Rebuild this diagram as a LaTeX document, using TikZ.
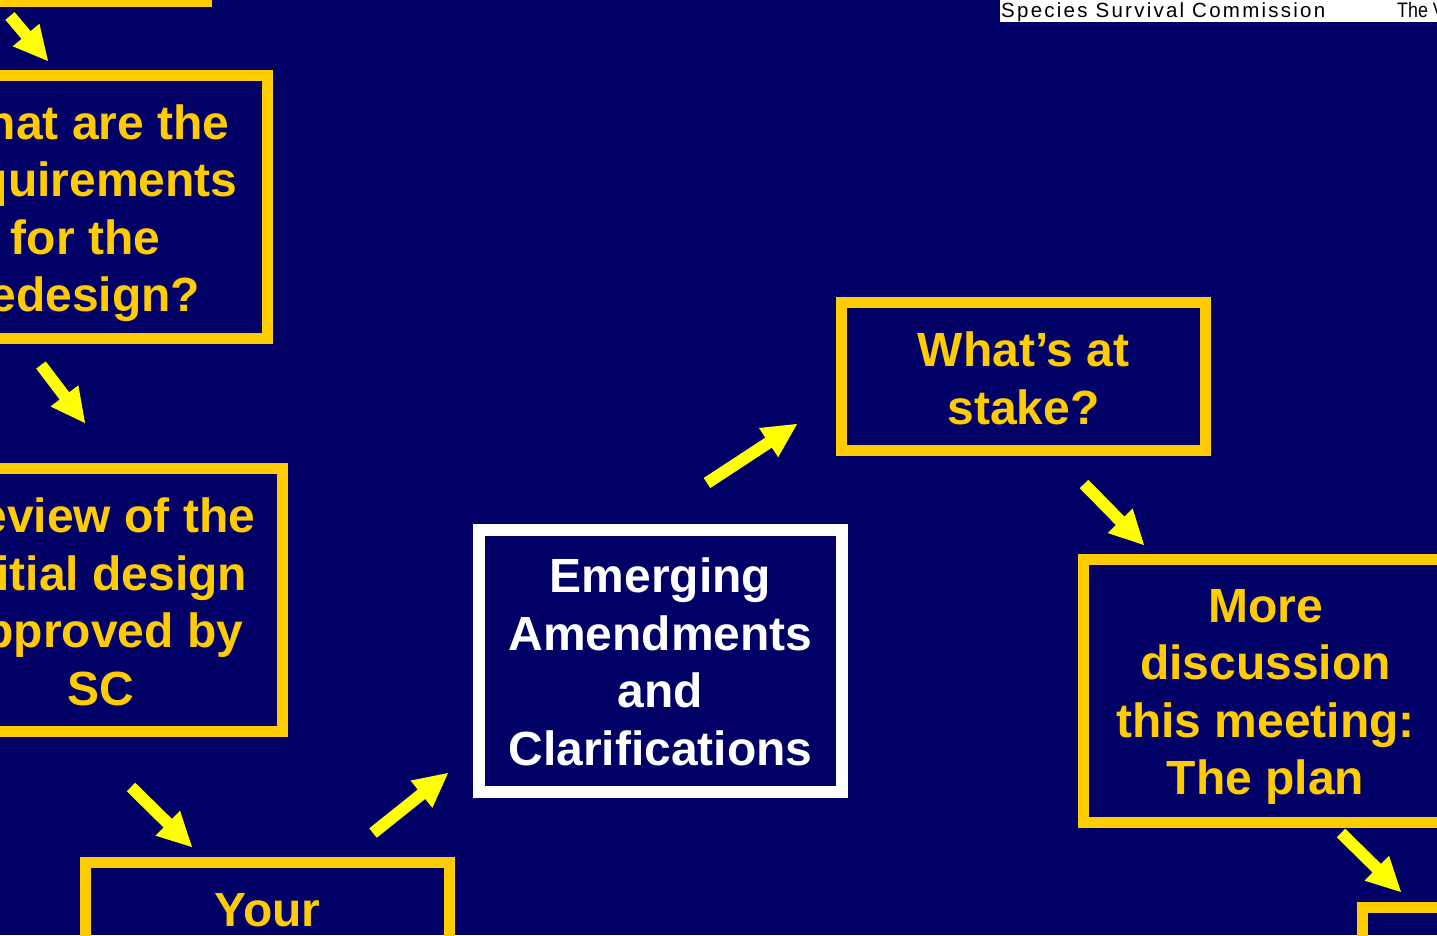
\documentclass[tikz,border=0pt]{standalone}
\usepackage{fontspec}
\setmainfont{Liberation Sans}
\usetikzlibrary{calc}
\definecolor{bgnavy}{HTML}{000066}
\definecolor{boxyellow}{HTML}{FFCC00}
\definecolor{arrowyellow}{HTML}{FFFF00}
\tikzset{
  yellowbox/.style={draw=boxyellow, line width=11pt, minimum width=364pt, minimum height=263pt, inner sep=0pt},
  whitebox/.style={yellowbox, draw=white, line width=12pt, minimum width=363pt, minimum height=262pt},
  boxtext/.style={align=center, text=boxyellow, inner sep=0pt,
    font=\fontsize{48}{57.5}\selectfont\bfseries},
}
\newcommand\blockarrow[2]{%
  \fill[arrowyellow]
    ($(#1)!6pt!90:(#2)$) --
    ($($(#2)!34pt!(#1)$)!6pt!-90:(#1)$) --
    ($($(#2)!34pt!(#1)$)!17.5pt!-90:(#1)$) --
    (#2) --
    ($($(#2)!34pt!(#1)$)!17.5pt!90:(#1)$) --
    ($($(#2)!34pt!(#1)$)!6pt!90:(#1)$) --
    ($(#1)!6pt!-90:(#2)$) -- cycle;}
\begin{document}
\begin{tikzpicture}[x=1pt,y=-1pt]
\useasboundingbox (0,0) rectangle (1437,935);
\fill[bgnavy] (0,0) rectangle (1437,935);
\clip (0,0) rectangle (1437,935);
% header strip
\fill[white] (1000,0) rectangle (1437,22);
\node[anchor=base west, inner sep=0pt, font=\fontsize{20.5}{22}\selectfont\addfontfeature{LetterSpace=11}] (hdr) at (1001,17.5) {Species Survival Commission};
\node[anchor=base west, inner sep=0pt, xscale=0.85, font=\fontsize{21}{22}\selectfont] (hdr2) at (1397,17) {The V};
% boxes
\node[yellowbox] (top) at (24.5,-130) {};
\node[yellowbox] (req) at (85.5,207) {};
\node[boxtext] (reqt) at (85.5,213) {What are the\\requirements\\for the\\redesign?};
\node[yellowbox] (rev) at (100.5,600) {};
\node[boxtext] (revt) at (100.5,602) {Review of the\\initial design\\approved by\\SC};
\node[yellowbox] (your) at (267.5,994) {};
\node[boxtext, anchor=base] (yourt) at (267.5,926) {Your};
\node[whitebox] (emg) at (660.5,661) {};
\node[boxtext, text=white] (emgt) at (660.5,662) {Emerging\\Amendments\\and\\Clarifications};
\node[yellowbox, minimum height=148pt] (stake) at (1023.5,376.5) {};
\node[boxtext] (staket) at (1023.5,378.5) {What’s at\\stake?};
\node[yellowbox] (more) at (1265.5,691) {};
\node[boxtext] (moret) at (1265.5,697) {More\\discussion\\this meeting:\\The plan};
\node[yellowbox] (next) at (1544.5,1039) {};
% arrow ends
\coordinate (a1s) at (10,16);   \coordinate (a1e) at (48,61);
\coordinate (a2s) at (41,365);  \coordinate (a2e) at (85,423);
\coordinate (a3s) at (131,787); \coordinate (a3e) at (192,847);
\coordinate (a4s) at (373,833); \coordinate (a4e) at (448,773);
\coordinate (a5s) at (707,483); \coordinate (a5e) at (797,424);
\coordinate (a6s) at (1084,484);\coordinate (a6e) at (1144,545);
\coordinate (a7s) at (1341,833);\coordinate (a7e) at (1401,892);
\blockarrow{a1s}{a1e}
\blockarrow{a2s}{a2e}
\blockarrow{a3s}{a3e}
\blockarrow{a4s}{a4e}
\blockarrow{a5s}{a5e}
\blockarrow{a6s}{a6e}
\blockarrow{a7s}{a7e}
\end{tikzpicture}
\end{document}
